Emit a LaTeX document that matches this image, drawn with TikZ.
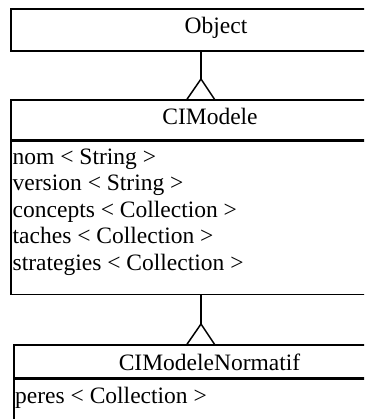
\documentclass[tikz,border=0pt]{standalone}
\usepackage{fontspec}
\setmainfont{Liberation Serif}
\begin{document}
\begin{tikzpicture}[x=1pt,y=-1pt,
  every node/.style={font=\fontsize{23.5}{26.5}\selectfont},
  comp/.style={draw, line width=1.5pt, rectangle, inner sep=0pt},
  attrtext/.style={anchor=base west, align=left, inner sep=0pt},
  link/.style={line width=1.5pt}]
\clip (0,0) rectangle (364,419);
% Object
\node[comp, minimum width=410pt, minimum height=42pt, text height=15pt, text depth=7pt] (obj) at (216,30) {Object};
% CIModele
\node[comp, minimum width=398pt, minimum height=40pt, text height=15pt, text depth=5pt] (cim) at (210,120) {CIModele};
\node[comp, anchor=north west, minimum width=398pt, minimum height=153pt] (cimattr) at (cim.south west) {};
\node[attrtext] (cimtext) at (12.5,270) {nom < String >\\version < String >\\concepts < Collection >\\taches < Collection >\\strategies < Collection >};
% CIModeleNormatif
\node[comp, minimum width=391pt, minimum height=33pt, text height=17pt, text depth=0pt] (norm) at (209.5,361.5) {CIModeleNormatif};
\node[comp, anchor=north west, minimum width=391pt, minimum height=60pt] (normattr) at (norm.south west) {};
\node[attrtext] (normtext) at (15,403) {peres < Collection >};
% generalization 1
\coordinate (a1) at (201,79);
\draw[link] (a1 |- obj.south) -- (a1);
\draw[link, line join=miter] (a1 |- cim.north) ++(-14,0) -- (a1) -- ++(14,21);
% generalization 2
\coordinate (a2) at (201,324);
\draw[link] (a2 |- cimattr.south) -- (a2);
\draw[link, line join=miter] (a2 |- norm.north) ++(-14,0) -- (a2) -- ++(14,21);
\end{tikzpicture}
\end{document}
